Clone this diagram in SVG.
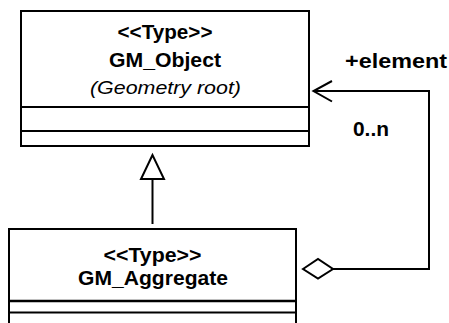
<svg xmlns="http://www.w3.org/2000/svg" width="449" height="323" viewBox="0 0 449 323">
<style>
.box{fill:#fff;stroke:#000;stroke-width:2}
.ln{fill:none;stroke:#000;stroke-width:2}
.t{font-family:"Liberation Sans",Arial,sans-serif;font-size:19.5px;font-weight:bold;text-anchor:middle;fill:#000}
.i{font-family:"Liberation Sans",Arial,sans-serif;font-size:19px;font-style:italic;text-anchor:middle;fill:#000}
.l{font-family:"Liberation Sans",Arial,sans-serif;font-size:19.5px;font-weight:bold;fill:#000}
</style>
<rect width="449" height="323" fill="#fff"/>
<g id="GM_Object">
<rect class="box" x="21" y="11" width="288" height="135"/>
<line class="ln" x1="21" y1="107" x2="309" y2="107"/>
<line class="ln" x1="21" y1="131" x2="309" y2="131"/>
<text class="t" x="165" y="39" textLength="95" lengthAdjust="spacingAndGlyphs">&lt;&lt;Type&gt;&gt;</text>
<text class="t" x="165" y="67.3" textLength="112" lengthAdjust="spacingAndGlyphs">GM_Object</text>
<text class="i" x="165.5" y="93.5" textLength="151" lengthAdjust="spacingAndGlyphs">(Geometry root)</text>
</g>
<g id="GM_Aggregate">
<path class="ln" d="M9,324 V229 H296 V324" style="fill:#fff"/>
<line class="ln" x1="9" y1="301" x2="296" y2="301" style="stroke-width:2.5"/>
<line class="ln" x1="9" y1="312.5" x2="296" y2="312.5"/>
<text class="t" x="152.5" y="262" textLength="98" lengthAdjust="spacingAndGlyphs">&lt;&lt;Type&gt;&gt;</text>
<text class="t" x="153" y="285" textLength="150" lengthAdjust="spacingAndGlyphs">GM_Aggregate</text>
</g>
<g id="connectors">
<line class="ln" x1="152.5" y1="179" x2="152.5" y2="224"/>
<polygon class="ln" points="152.5,155 141,179 164,179" style="fill:#fff"/>
<polyline class="ln" points="333,269 429,269 429,91 313,91"/>
<polyline class="ln" points="332,81 313.5,91 332,101.5"/>
<polygon class="ln" points="303,269 318,259 333,269 318,278.5" style="fill:#fff"/>
<text class="l" x="345" y="68" textLength="102" lengthAdjust="spacingAndGlyphs">+element</text>
<text class="l" x="353" y="136" textLength="36" lengthAdjust="spacingAndGlyphs">0..n</text>
</g>
</svg>
